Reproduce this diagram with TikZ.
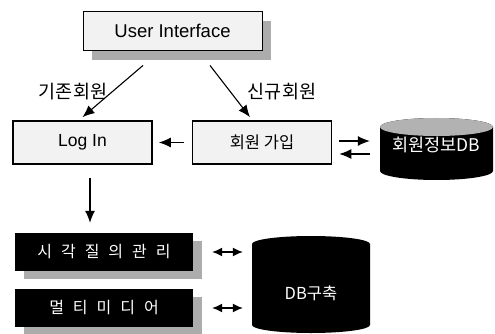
\documentclass[tikz,border=0pt]{standalone}
\usepackage{fontspec}
\setmainfont{Noto Sans CJK KR}
\newfontfamily\latin{Liberation Sans}
\newfontfamily\kwide[WordSpace=2.5]{Noto Sans CJK KR}
\usetikzlibrary{shadows,arrows.meta,calc}
\begin{document}
\begin{tikzpicture}[x=1pt,y=-1pt,
  arr/.style={-{Latex[length=12pt,width=10pt]}, line width=1.1pt},
  darr/.style={{Latex[length=10pt,width=9pt]}-{Latex[length=10pt,width=9pt]}, line width=1.1pt},
  wbox/.style={draw=black, line width=1.7pt, fill=gray!10, inner sep=0pt,
    minimum width=139pt, minimum height=43pt},
  bbox/.style={fill=black, text=white, inner sep=0pt, minimum width=178pt,
    minimum height=38pt, font=\kwide\fontsize{16}{16}\selectfont,
    drop shadow={shadow xshift=9pt, shadow yshift=-8pt, fill=gray!65, opacity=1}},
  lbl/.style={font=\fontsize{18.5}{18.5}\selectfont, inner sep=0pt},
  dbtext/.style={text=white, inner sep=0pt},
]
\useasboundingbox (0,0) rectangle (495,334);

% cylinders
\fill[black] (380,127) -- (380,171)
  arc[start angle=180, end angle=0, x radius=56.5, y radius=9]
  -- (493,127)
  arc[start angle=0, end angle=-180, x radius=56.5, y radius=9] -- cycle;
\fill[gray!60] (436.5,127) ellipse[x radius=56.5, y radius=9];
\fill[black] (252,244) -- (252,325)
  arc[start angle=180, end angle=0, x radius=59, y radius=8]
  -- (370,244)
  arc[start angle=0, end angle=-180, x radius=59, y radius=8] -- cycle;

% nodes
\node[draw=black, line width=0.9pt, fill=gray!10, minimum width=179pt, minimum height=39pt,
  drop shadow={shadow xshift=9pt, shadow yshift=-10pt, fill=gray!65, opacity=1},
  font=\latin\fontsize{18.5}{18.5}\selectfont] (ui) at (172.5,30.5) {User Interface};
\node[wbox, font=\latin\fontsize{17.5}{17.5}\selectfont] (login) at (82.5,142.5) {Log In};
\node[wbox, font=\fontsize{16.5}{16.5}\selectfont] (join) at (262,142.5) {회원 가입};
\node[dbtext, minimum width=113pt, minimum height=62pt, font=\fontsize{17.5}{17.5}\selectfont]
  (db1) at (436.5,145) {회원정보DB};
\node[bbox] (q) at (104,252) {시 각 질 의 관 리};
\node[bbox] (m) at (104,308) {멀 티 미 디 어};
\node[dbtext, minimum width=118pt, font=\fontsize{16.5}{16.5}\selectfont] (db2) at (311,293) {DB구축};

\node[lbl] (l1) at (73,92) {기존회원};
\node[lbl] (l2) at (282,92) {신규회원};

% connectors
\draw[arr] ([xshift=-29.5pt,yshift=-15pt]ui.south) -- ([yshift=3pt]login.north);
\draw[arr] ([xshift=37.5pt,yshift=-15pt]ui.south) -- ([xshift=-12pt,yshift=3pt]join.north);
\draw[arr, shorten <=8pt, shorten >=6pt] (join.west) -- (login.east);
\draw[arr, shorten <=7pt, shorten >=10pt] ([yshift=1.5pt]join.east) -- ([yshift=1.5pt]join.east -| db1.west);
\draw[arr, shorten <=10pt, shorten >=7pt] ([yshift=-11.5pt]join.east -| db1.west) -- ([yshift=-11.5pt]join.east);
\draw[arr] ([xshift=7.5pt,yshift=-13pt]login.south) -- ([xshift=-14pt,yshift=10pt]q.north);
\draw[darr, shorten <=19pt, shorten >=9pt] (q.east) -- (q.east -| db2.west);
\draw[darr, shorten <=19pt, shorten >=9pt] (m.east) -- (m.east -| db2.west);
\end{tikzpicture}
\end{document}
